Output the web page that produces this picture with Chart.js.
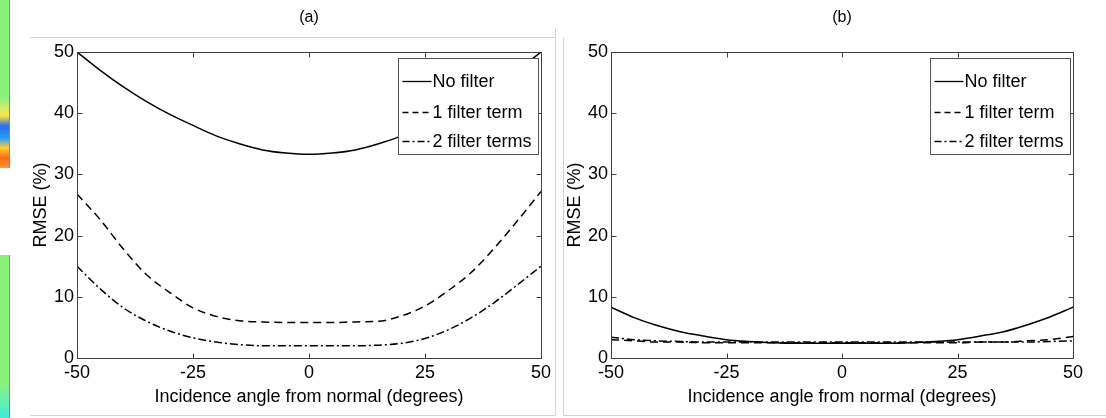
<!DOCTYPE html>
<html>
<head>
<meta charset="utf-8">
<script src="https://cdn.jsdelivr.net/npm/chart.js@4.4.1/dist/chart.umd.min.js"></script>
<style>
  body { margin: 0; background: #fff; width: 1106px; height: 418px; overflow: hidden; position: relative; }
  canvas { position: absolute; top: 0; }
  #chartA { left: 0; }
  #chartB { left: 560px; }
  .strip { position: absolute; left: 0; width: 9px; border-right: 1px solid #8a8a8a; }
  .frame { position: absolute; background: #d2d2d2; }
</style>
</head>
<body>
<!-- bits of the neighbouring figure on the left edge -->
<div class="strip" style="top:0;height:168px;background:linear-gradient(to bottom,#8cf07c 0%,#8cf07c 58%,#c8f070 64%,#ffe23a 69%,#2a6ee6 75%,#1f9cff 82%,#ffd030 88%,#ff6a12 94%,#ff9a3a 100%)"></div>
<div class="strip" style="top:255px;height:163px;background:linear-gradient(to bottom,#8cf07c 0%,#8cf07c 78%,#5af0b8 92%,#40e8d8 100%)"></div>
<div class="frame" style="left:30px;top:37px;width:525px;height:1px"></div>
<div class="frame" style="left:555px;top:28px;width:1px;height:387px"></div>
<div class="frame" style="left:30px;top:415px;width:525px;height:1px"></div>
<div class="frame" style="left:563px;top:38px;width:1px;height:377px"></div>
<div class="frame" style="left:563px;top:415px;width:543px;height:1px"></div>

<canvas id="chartA" width="560" height="418"></canvas>
<canvas id="chartB" width="546" height="418"></canvas>

<script>
// incidence angles (degrees)
const angles = [-50, -45, -40, -35, -30, -25, -20, -15, -10, -5, 0, 5, 10, 15, 20, 25, 30, 35, 40, 45, 50];

// panel (a)
const noFilterA  = [50.0, 47.0, 44.3, 41.9, 39.8, 38.0, 36.3, 35.0, 34.0, 33.5, 33.3, 33.5, 34.0, 35.0, 36.3, 38.0, 39.8, 41.9, 44.3, 47.0, 50.0];
const oneFilterA = [26.8, 22.6, 17.8, 13.6, 10.7, 8.2, 6.8, 6.1, 5.9, 5.8, 5.8, 5.8, 5.9, 6.0, 6.9, 8.5, 11.0, 14.0, 18.0, 22.5, 27.2];
const twoFilterA = [15.0, 11.3, 8.2, 6.0, 4.4, 3.3, 2.6, 2.2, 2.0, 2.0, 2.0, 2.0, 2.0, 2.1, 2.4, 3.2, 4.6, 6.6, 9.1, 12.0, 15.0];

// panel (b)
const noFilterB  = [8.3, 6.6, 5.3, 4.3, 3.6, 3.0, 2.7, 2.5, 2.4, 2.4, 2.4, 2.4, 2.4, 2.5, 2.7, 3.0, 3.6, 4.3, 5.4, 6.7, 8.3];
const oneFilterB = [3.0, 2.8, 2.6, 2.6, 2.5, 2.5, 2.5, 2.5, 2.5, 2.5, 2.5, 2.5, 2.5, 2.5, 2.5, 2.5, 2.6, 2.6, 2.8, 3.0, 3.5];
const twoFilterB = [3.4, 3.0, 2.8, 2.7, 2.6, 2.6, 2.6, 2.6, 2.6, 2.6, 2.6, 2.6, 2.6, 2.6, 2.6, 2.6, 2.6, 2.6, 2.6, 2.7, 2.8];

const seriesNames = ['No filter', '1 filter term', '2 filter terms'];
const xTicks = [-50, -25, 0, 25, 50];
const yTicks = [0, 10, 20, 30, 40, 50];

const FONT = '"Liberation Sans", Arial, sans-serif';
const dashes = [[], [8, 5], [8, 3, 2, 3]];

// matlab style box, inward ticks, legend and panel title
const matlabFrame = {
  id: 'matlabFrame',
  afterDatasetsDraw(chart, args, opts) {
    const { ctx, chartArea: a, scales: { x, y } } = chart;
    const L = Math.round(a.left) + 0.5, R = Math.round(a.right) + 0.5;
    const T = Math.round(a.top) + 0.5, B = Math.round(a.bottom) + 0.5;
    ctx.save();
    ctx.strokeStyle = '#404040';
    ctx.lineWidth = 1;
    ctx.setLineDash([]);
    ctx.strokeRect(L, T, R - L, B - T);
    ctx.beginPath();
    xTicks.forEach(v => {
      const px = Math.round(x.getPixelForValue(v)) + 0.5;
      ctx.moveTo(px, B); ctx.lineTo(px, B - 5);
      ctx.moveTo(px, T); ctx.lineTo(px, T + 5);
    });
    yTicks.forEach(v => {
      const py = Math.round(y.getPixelForValue(v)) + 0.5;
      ctx.moveTo(L, py); ctx.lineTo(L + 5, py);
      ctx.moveTo(R, py); ctx.lineTo(R - 5, py);
    });
    ctx.stroke();

    // legend
    const w = 140, h = 96;
    const lx = Math.round(a.right - 3 - w) + 0.5, ly = Math.round(a.top + 6) + 0.5;
    ctx.fillStyle = '#fff';
    ctx.fillRect(lx, ly, w, h);
    ctx.strokeStyle = '#555';
    ctx.strokeRect(lx, ly, w, h);
    const rows = [22, 53, 82];
    ctx.font = '18px ' + FONT;
    ctx.textBaseline = 'middle';
    ctx.textAlign = 'left';
    chart.data.datasets.forEach((ds, i) => {
      const ry = Math.round(ly + rows[i]) + 0.5;
      ctx.strokeStyle = '#000';
      ctx.lineWidth = 1.3;
      ctx.setLineDash(i === 1 ? [6, 4] : i === 2 ? [7, 3, 2, 3] : []);
      ctx.beginPath();
      ctx.moveTo(lx + 4, ry); ctx.lineTo(lx + 33, ry);
      ctx.stroke();
      ctx.fillStyle = '#000';
      ctx.fillText(ds.label, lx + 34, ry + 1);
    });
    ctx.setLineDash([]);

    // panel title
    ctx.font = '16px ' + FONT;
    ctx.textAlign = 'center';
    ctx.fillText(opts.title, (a.left + a.right) / 2, 18);
    ctx.restore();
  }
};

function makePanel(id, values, title, yAxisWidth, yTitlePad, rightPad) {
  new Chart(document.getElementById(id), {
    type: 'line',
    data: {
      datasets: values.map((vals, i) => ({
        label: seriesNames[i],
        data: angles.map((a, k) => ({ x: a, y: vals[k] })),
        borderColor: '#000',
        borderWidth: 1.5,
        borderDash: dashes[i],
        pointRadius: 0,
        cubicInterpolationMode: 'monotone',
        fill: false
      }))
    },
    options: {
      responsive: false,
      devicePixelRatio: 1,
      animation: false,
      layout: { padding: { left: 0, top: 52, right: rightPad, bottom: 0 } },
      plugins: {
        legend: { display: false },
        tooltip: { enabled: false },
        matlabFrame: { title: title }
      },
      scales: {
        x: {
          type: 'linear',
          min: -50, max: 50,
          afterBuildTicks: s => { s.ticks = xTicks.map(v => ({ value: v })); },
          afterFit: s => { s.height = 60; },
          grid: { display: false, drawTicks: false },
          border: { display: false },
          ticks: { color: '#000', font: { family: FONT, size: 18 }, padding: 4, maxRotation: 0 },
          title: { display: true, text: 'Incidence angle from normal (degrees)', color: '#000',
                   font: { family: FONT, size: 18 }, padding: { top: 0, bottom: 10 } }
        },
        y: {
          min: 0, max: 50,
          afterBuildTicks: s => { s.ticks = yTicks.map(v => ({ value: v })); },
          afterFit: s => { s.width = yAxisWidth; },
          grid: { display: false, drawTicks: false },
          border: { display: false },
          ticks: { color: '#000', font: { family: FONT, size: 18 }, padding: 3 },
          title: { display: true, text: 'RMSE (%)', color: '#000',
                   font: { family: FONT, size: 18 }, padding: { top: yTitlePad, bottom: 0 } }
        }
      }
    },
    plugins: [matlabFrame]
  });
}

makePanel('chartA', [noFilterA, oneFilterA, twoFilterA], '(a)', 77, 30, 19);
makePanel('chartB', [noFilterB, oneFilterB, twoFilterB], '(b)', 51, 4, 33);
</script>
</body>
</html>
